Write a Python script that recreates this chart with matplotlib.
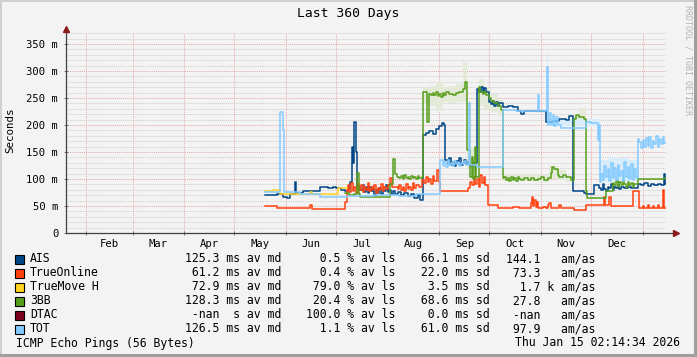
import matplotlib
matplotlib.use("Agg")
import matplotlib.pyplot as plt
import numpy as np
from matplotlib.patches import Rectangle

# --- data (days since Jan 20 2025, median RTT in ms) ---
ais_days = [119.5, 126.7, 130.3, 132.7, 134.5, 137.2, 137.5, 138.2, 142.3, 152.6, 157, 160, 162, 165,
            167.6, 169, 170.5, 171.5, 172.3, 173, 174, 174.8, 176.6, 178, 179, 180, 181, 182, 183, 184,
            185, 186, 187, 188, 189, 190, 191, 192, 193, 194, 195, 196, 197.6, 199, 201, 203, 205, 207,
            209, 211, 212.6, 214.4, 216, 218, 220, 222, 224, 225.5, 226.5, 227.6, 229, 230, 231, 232,
            233, 234, 235, 236, 237, 238, 239, 240, 241, 242.6, 244.4, 246.8, 248, 249, 250, 251, 252,
            253.5, 255, 256, 257, 258, 259, 260, 261.9, 265, 268, 270.9, 273, 275, 284.7, 287.7, 292,
            296, 300, 302, 303.9, 310.5, 312, 316.5, 319.5, 321, 322, 323, 324, 325, 326, 327, 328, 329,
            330, 331, 332, 333, 335, 337, 339, 342.9, 345, 347, 349, 351, 353, 355, 357, 358.5, 359.2, 359.8]
ais_ms = [70, 72, 66, 64, 73, 73, 95, 74, 78, 85, 84, 86, 84, 80,
          78, 82, 95, 160, 130, 205, 150, 85, 80, 88, 76, 85, 75, 86, 78, 82,
          70, 80, 74, 84, 72, 80, 78, 88, 76, 80, 72, 78, 72, 76, 70, 74, 68, 72,
          64, 70, 61, 181, 186, 188, 184, 192, 198, 204, 200, 135, 128, 138, 126, 132,
          125, 134, 128, 138, 126, 130, 135, 127, 132, 125, 130, 266, 262, 270, 260, 268, 262,
          243, 238, 245, 236, 242, 236, 240, 234, 236, 233, 225, 221, 225, 225, 206, 208,
          212, 210, 216, 78, 75, 73, 89, 84, 80, 90, 82, 78, 86, 84, 90, 80, 86,
          84, 88, 82, 86, 84, 86, 84, 90, 88, 92, 87, 90, 88, 91, 88, 109, 90, 90]

trueonline_days = [119.5, 126.7, 146.5, 147.7, 167.6, 168.3, 169, 170, 171, 172, 173, 174, 175, 176, 177,
                   178, 179, 180, 181, 182, 183, 184, 185, 186, 187, 188, 189, 190, 191, 192, 193, 194.6,
                   195.5, 197.6, 199, 200, 201, 202, 203, 204, 205, 206, 207, 208, 209, 210, 212, 213.8,
                   215, 216, 217, 218, 219, 220, 221, 222.3, 223.5, 224.6, 241.4, 242.5, 243.5, 244.5,
                   245.5, 246.5, 247.5, 248.5, 249.5, 250.5, 251.5, 252.9, 258.9, 262, 265, 268, 272, 276,
                   278.7, 279.5, 280.2, 281, 281.8, 282.5, 283.3, 286, 288, 289, 290, 291, 293, 296, 297,
                   300, 304.5, 311.7, 322.5, 323.5, 325.5, 326.7, 339.9, 343.5, 346, 347, 349, 350, 352,
                   353, 355, 356, 358, 359, 359.8]
trueonline_ms = [50.5, 46, 52, 44, 58, 80, 88, 76, 92, 78, 86, 74, 90, 80, 88,
                 76, 85, 79, 92, 77, 86, 80, 89, 75, 84, 80, 90, 78, 86, 82, 88, 102,
                 86, 86, 82, 88, 80, 86, 78, 90, 82, 86, 80, 92, 84, 88, 86, 98,
                 92, 104, 94, 100, 90, 106, 96, 117, 95, 78, 84, 95, 88, 104,
                 90, 100, 86, 107, 92, 104, 88, 52, 46, 47, 46, 48, 46, 47,
                 55, 67, 50, 62, 48, 58, 46, 48, 46, 52, 55, 47, 46, 52, 46,
                 47, 43, 51, 67, 51, 67, 50.5, 78, 46, 50, 46, 52, 46, 50,
                 46, 51, 46, 80, 46, 46]

truemove_days = [119.5, 124, 128.5, 146, 146.5, 147.7, 163.4, 168.8]
truemove_ms = [78, 80, 72, 72, 76.5, 72, 83, 83]

bb3_days = [167.6, 170, 173, 174.8, 176, 176.6, 193.4, 194.6, 196.4, 197.5, 198.8, 200, 201, 202, 203,
            204, 205, 206, 207, 208, 209, 210, 211, 212, 213.8, 214.4, 216.8, 217.5, 219, 220, 221, 222,
            223, 224, 225, 226, 227, 228, 230, 232, 234, 236, 238, 239.6, 240.5, 242.6, 243.5, 244.4,
            245.5, 246.2, 247.5, 248.6, 250, 251, 252, 253.5, 255, 257, 259, 260.7, 261.9, 263, 264,
            265, 266, 267, 268, 269, 270, 271, 272, 273, 275, 277, 279, 281, 283, 285, 287, 289, 290.7,
            291.5, 293, 294.9, 296, 298, 300, 302.7, 304.5, 306, 308, 310.5, 311.7, 312.5, 320, 323.7,
            327.9, 329, 330, 331, 332, 333, 334, 335, 336, 337, 338, 339, 340, 341, 342.9, 358.6, 359.8]
bb3_ms = [74, 70, 72, 111, 72, 67, 67, 90, 137, 110, 104, 101, 106, 100, 108,
          102, 104, 100, 106, 102, 104, 100, 106, 102, 104, 262, 206, 258, 255, 260, 256, 262,
          254, 258, 252, 260, 256, 262, 258, 255, 260, 262, 266, 280, 154, 104, 140, 100,
          160, 104, 271, 262, 258, 262, 256, 250, 244, 240, 236, 228, 101, 104, 98,
          102, 97, 103, 99, 101, 96, 104, 100, 98, 102, 99, 101, 98, 100, 103, 99, 101, 112,
          123, 118, 107, 104, 108, 104, 98, 212, 218, 214, 212, 77, 65, 64, 78,
          92, 88, 96, 86, 95, 88, 98, 90, 86, 94, 88, 92, 86, 90, 100, 102, 102]

dtac_days = []
dtac_ms = []

tot_days = [119.5, 127.5, 128.3, 130.3, 131, 140.5, 152.6, 168.8, 185, 200, 210, 224.6, 226, 227, 228,
            229, 230, 231, 232, 233, 234, 235, 236, 237, 238, 239, 240, 241.4, 241.8, 242.6, 246.8,
            260.7, 261.9, 270, 282.3, 282.9, 283.5, 287.7, 288.5, 289.2, 290, 291, 292, 293, 294, 295,
            296.7, 310.5, 311.7, 315, 318.9, 319.2, 319.6, 320.2, 321, 322, 323, 324, 325, 326, 327,
            328, 329, 330, 331, 332, 333, 334, 335, 336, 337, 338, 339, 340, 341, 342, 342.9, 344, 345,
            346, 347, 348, 349, 350, 351, 352, 353, 354, 355, 356, 357, 358, 359, 359.8]
tot_ms = [76.5, 76, 224, 190, 76, 72, 67, 68, 70, 68, 72, 135, 125, 132, 122,
          136, 126, 130, 124, 133, 127, 131, 125, 130, 128, 134, 126, 130, 240, 126, 123,
          123, 228, 226, 226, 255, 226, 228, 308, 200, 222, 200, 218, 198, 215, 200,
          194, 194, 206, 203, 203, 172, 200, 95, 110, 98, 125, 104, 118, 96, 130,
          102, 120, 98, 126, 105, 115, 97, 132, 104, 122, 100, 128, 98, 118, 102, 175, 168, 158,
          172, 160, 176, 162, 178, 158, 170, 165, 180, 160, 175, 164, 178, 166, 166]

# smoke (spread) bands
bb3_smoke_days = [214.4, 218, 222, 226, 230, 234, 238, 240.5, 247.5, 251, 255, 259, 261.9,
                  285, 290, 295, 300, 304.5, 308, 311.7]
bb3_smoke_lo = [240, 236, 226, 242, 240, 242, 242, 120, 236, 230, 224, 216, 96,
                95, 100, 98, 94, 204, 200, 60]
bb3_smoke_hi = [268, 272, 280, 270, 272, 276, 316, 160, 286, 268, 258, 246, 108,
                108, 124, 116, 106, 220, 232, 70]
tot_smoke_days = [286, 288.5, 289.2, 320.2, 326, 332, 338, 342.9]
tot_smoke_lo = [222, 290, 198, 94, 96, 95, 97, 152]
tot_smoke_hi = [230, 333, 212, 136, 140, 138, 136, 183]

month_starts = [12, 40, 71, 101, 132, 162, 193, 224, 254, 285, 315, 346]
month_names = ["Feb", "Mar", "Apr", "May", "Jun", "Jul", "Aug", "Sep", "Oct", "Nov", "Dec"]
y_ticks = [0, 50, 100, 150, 200, 250, 300, 350]
y_labels = ["0", "50 m", "100 m", "150 m", "200 m", "250 m", "300 m", "350 m"]

names = ["AIS", "TrueOnline", "TrueMove H", "3BB", "DTAC", "TOT"]
colors = ["#004586", "#ff420e", "#ffd320", "#579d1c", "#7e0021", "#83caff"]
avg_txt = ["125.3 ms av md", " 61.2 ms av md", " 72.9 ms av md", "128.3 ms av md", " -nan  s av md", "126.5 ms av md"]
loss_txt = ["  0.5 % av ls", "  0.4 % av ls", " 79.0 % av ls", " 20.4 % av ls", "100.0 % av ls", "  1.1 % av ls"]
sd_txt = [" 66.1 ms sd", " 22.0 ms sd", "  3.5 ms sd", " 68.6 ms sd", "  0.0 ms sd", " 61.0 ms sd"]
amas_txt = ["144.1   am/as", " 73.3   am/as", "  1.7 k am/as", " 27.8   am/as", " -nan   am/as", " 97.9   am/as"]

series_days = [ais_days, trueonline_days, truemove_days, bb3_days, dtac_days, tot_days]
series_ms = [ais_ms, trueonline_ms, truemove_ms, bb3_ms, dtac_ms, tot_ms]

# --- figure ---
W, H = 697, 357
BG = "#f3f3f3"
MONO = "DejaVu Sans Mono"
fig = plt.figure(figsize=(W / 100, H / 100), dpi=100, facecolor=BG)


def fx(x):
    return x / W


def fy(y):
    return 1 - y / H


# 3D frame
fig.patches.append(Rectangle((0, 0), 1, 1, transform=fig.transFigure, facecolor=BG, edgecolor="none", zorder=-10))
fig.patches.append(Rectangle((0, fy(2)), 1, 2 / H, transform=fig.transFigure, facecolor="#cfcfcf", edgecolor="none"))
fig.patches.append(Rectangle((0, 0), 2 / W, 1, transform=fig.transFigure, facecolor="#cfcfcf", edgecolor="none"))
fig.patches.append(Rectangle((1 - 3 / W, 0), 3 / W, 1, transform=fig.transFigure, facecolor="#9e9e9e", edgecolor="none"))
fig.patches.append(Rectangle((0, 0), 1, 3 / H, transform=fig.transFigure, facecolor="#9e9e9e", edgecolor="none"))

x0, x1 = 66, 666
ytop, ybot = 33.2, 233
ax = fig.add_axes([fx(x0), fy(ybot), (x1 - x0) / W, (ybot - ytop) / H])
ax.set_facecolor(BG)
ax.set_xlim(0, 360)
ax.set_ylim(0, 370)
for s in ax.spines.values():
    s.set_visible(False)

# grid
ax.set_yticks(y_ticks)
ax.set_yticklabels(y_labels, family=MONO, fontsize=7.6)
ax.set_yticks(np.arange(0, 371, 10), minor=True)
ax.set_xticks(month_starts)
ax.set_xticklabels([""] * len(month_starts))
mids = [(a + b) / 2 for a, b in zip(month_starts[:-1], month_starts[1:])]
ax.set_xticks(mids, minor=True)
ax.set_xticklabels(month_names, minor=True, family=MONO, fontsize=7.6)
ax.tick_params(axis="x", which="major", length=3, width=0.6, color="#606060", direction="inout")
ax.tick_params(axis="x", which="minor", length=0, pad=4)
ax.tick_params(axis="y", which="major", length=3, width=0.6, color="#606060", direction="inout", pad=4)
ax.tick_params(axis="y", which="minor", length=0)
ax.grid(axis="y", which="minor", color="#c8c8c8", linestyle=(0, (1, 1)), linewidth=0.6)
ax.grid(axis="y", which="major", color="#e8a8a8", linestyle=(0, (1, 1)), linewidth=0.7)
ax.grid(axis="x", which="major", color="#e8a8a8", linestyle=(0, (1, 1)), linewidth=0.7)
ax.set_axisbelow(True)

# smoke
ax.fill_between(bb3_smoke_days, bb3_smoke_lo, bb3_smoke_hi, step="post", color="#e3ebd8", linewidth=0, zorder=1)
ax.fill_between(tot_smoke_days, tot_smoke_lo, tot_smoke_hi, step="post", color="#d9ecfb", linewidth=0, zorder=1)

# median lines
for d, v, c in zip(series_days, series_ms, colors):
    if len(d):
        ax.step(d, v, where="post", color=c, linewidth=1.1, zorder=3)

# axis lines with arrows
ax.plot([0, 1.012], [0, 0], transform=ax.transAxes, color="#404040", lw=0.9, clip_on=False, zorder=5)
ax.plot([0, 0], [0, 1.01], transform=ax.transAxes, color="#404040", lw=0.9, clip_on=False, zorder=5)
ax.plot(1.016, 0, marker=">", color="#8b1a1a", ms=4, transform=ax.transAxes, clip_on=False, zorder=6)
ax.plot(0, 1.022, marker="^", color="#8b1a1a", ms=4, transform=ax.transAxes, clip_on=False, zorder=6)

# titles
fig.text(fx(348), fy(14), "Last 360 Days", family=MONO, fontsize=9.4, ha="center", va="center", color="#000000")
fig.text(fx(10), fy(130), "Seconds", family=MONO, fontsize=7.8, rotation=90, ha="center", va="center")
fig.text(fx(688), fy(60), "RRDTOOL / TOBI OETIKER", family=MONO, fontsize=6, rotation=270,
         ha="center", va="center", color="#b4b4b4")

# legend
for i, name in enumerate(names):
    yc = 259 + 14 * i
    fig.patches.append(Rectangle((fx(15), fy(yc + 4.5)), 9 / W, 9 / H, transform=fig.transFigure,
                                 facecolor=colors[i], edgecolor="#000000", linewidth=0.8))
    kw = dict(family=MONO, fontsize=8.3, va="center", ha="left")
    fig.text(fx(30), fy(yc), name, **kw)
    fig.text(fx(185.5), fy(yc), avg_txt[i], **kw)
    fig.text(fx(306.5), fy(yc), loss_txt[i], **kw)
    fig.text(fx(414.5), fy(yc), sd_txt[i], **kw)
    fig.text(fx(506), fy(yc), amas_txt[i], **kw)

fig.text(fx(16), fy(343), "ICMP Echo Pings (56 Bytes)", family=MONO, fontsize=8.3, va="center", ha="left")
fig.text(fx(680), fy(343), "Thu Jan 15 02:14:34 2026", family=MONO, fontsize=8.3, va="center", ha="right")

fig.savefig("out.png", dpi=100, facecolor=BG)
